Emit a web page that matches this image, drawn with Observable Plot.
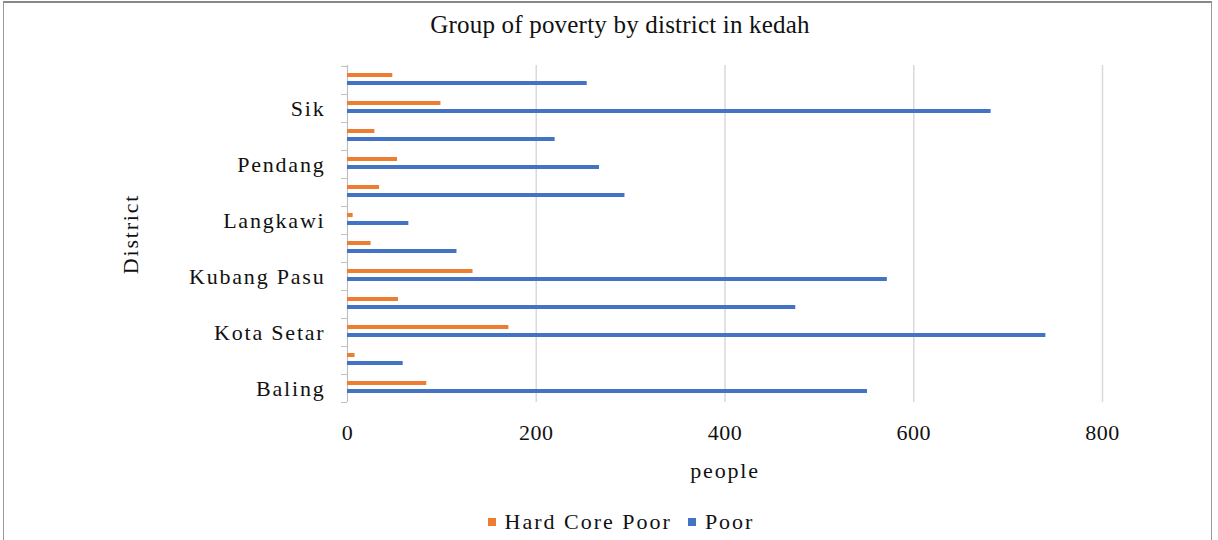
<!DOCTYPE html>
<html>
<head>
<meta charset="utf-8">
<script src="https://cdn.jsdelivr.net/npm/d3@7"></script>
<script src="https://cdn.jsdelivr.net/npm/@observablehq/plot@0.6"></script>
<style>
  html, body { margin: 0; padding: 0; background: #fff; }
  body { width: 1218px; height: 540px; position: relative; overflow: hidden; font-family: "Liberation Serif", "Times New Roman", serif; color: #111; }
  #frame { position: absolute; left: 3px; top: 1px; width: 1209px; height: 600px; border-top: 2px solid #888; border-left: 1px solid #999; border-right: 1px solid #999; box-sizing: border-box; }
  #title { position: absolute; left: 0; top: 0; width: 1218px; height: 50px; line-height: 50px; text-align: center; font-size: 25px; letter-spacing: 0.2px; padding-left: 22px; box-sizing: border-box; }
  #chart { position: absolute; left: 0; top: 50px; }
  #legend { position: absolute; left: 0; top: 510px; width: 1218px; height: 24px; display: flex; justify-content: center; align-items: center; font-size: 22px; letter-spacing: 2px; padding-left: 24px; box-sizing: border-box; }
  .item { display: flex; align-items: center; margin: 0 8px; }
  .sw { width: 8px; height: 8px; margin-right: 9px; }
  #chart svg, #chart svg text { font-family: "Liberation Serif", "Times New Roman", serif !important; }
  #chart svg text { letter-spacing: 1.8px; }
  #chart g[aria-label="x-axis tick label"] text { letter-spacing: 0.5px; }
</style>
</head>
<body>
<div id="frame"></div>
<div id="title">Group of poverty by district in kedah</div>
<div id="chart"></div>
<div id="legend"></div>
<script>
const districts = ["Baling", "Bandar Baharu", "Kota Setar", "Kuala Muda", "Kubang Pasu", "Kulim", "Langkawi", "Padang Terap", "Pendang", "Pokok Sena", "Sik", "Yan"];
const hardCorePoor = [84, 8, 171, 54, 133, 25, 6, 34, 53, 29, 99, 48];
const poor = [551, 59, 740, 475, 572, 116, 65, 294, 267, 220, 682, 254];
const labeledDistricts = ["Baling", "Kota Setar", "Kubang Pasu", "Langkawi", "Pendang", "Sik"];
const xTicks = [0, 200, 400, 600, 800];
const seriesNames = ["Hard Core Poor", "Poor"];
const seriesColors = ["#ED7D31", "#4472C4"];

const table = districts.map((d, i) => ({district: d, hcp: hardCorePoor[i], poor: poor[i]}));
const yDomain = districts.slice().reverse();

const chart = Plot.plot({
  width: 1218,
  height: 440,
  marginLeft: 347,
  marginRight: 116,
  marginTop: 15,
  marginBottom: 88,
  style: {fontSize: "22px", color: "#111", background: "transparent"},
  x: {domain: [0, 800]},
  y: {domain: yDomain, padding: 0},
  marks: [
    Plot.ruleX(xTicks.slice(1), {stroke: "#d9d9d9", strokeWidth: 1.5}),
    Plot.ruleX([0], {stroke: "#bfbfbf", strokeWidth: 1.2}),
    Plot.barX(table, {y: "district", x: "poor", fill: seriesColors[1], insetTop: 15, insetBottom: 9}),
    Plot.barX(table, {y: "district", x: "hcp", fill: seriesColors[0], insetTop: 7, insetBottom: 17}),
    Plot.axisY({ticks: labeledDistricts, tickSize: 0, tickPadding: 22, label: "District", labelAnchor: "center", labelOffset: 225, labelArrow: "none"}),
    Plot.axisY({ticks: districts, tickSize: 6, tickFormat: () => "", label: null, dy: 337 / 24, stroke: "#bfbfbf"}),
    Plot.axisY({ticks: [districts[districts.length - 1]], tickSize: 6, tickFormat: () => "", label: null, dy: -337 / 24, stroke: "#bfbfbf"}),
    Plot.axisX({ticks: xTicks, tickSize: 0, tickPadding: 22, label: "people", labelAnchor: "center", labelOffset: 75, labelArrow: "none"})
  ]
});
document.getElementById("chart").appendChild(chart);

const legend = d3.select("#legend");
seriesNames.forEach((name, i) => {
  const item = legend.append("div").attr("class", "item");
  item.append("div").attr("class", "sw").style("background", seriesColors[i]);
  item.append("span").text(name);
});
</script>
</body>
</html>
